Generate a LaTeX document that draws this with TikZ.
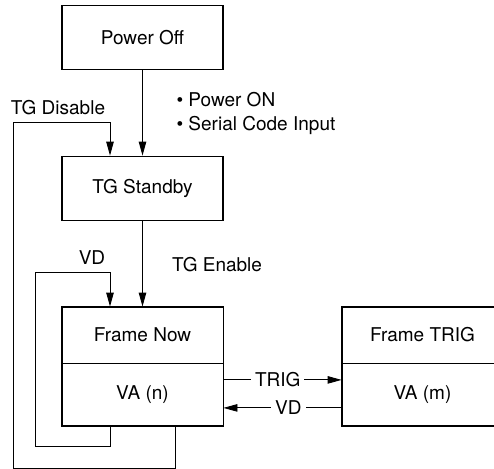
\documentclass[tikz,border=0pt]{standalone}
\usepackage{fontspec}
\setmainfont{TeX Gyre Heros}
\usepackage{xcolor}
\usetikzlibrary{arrows.meta, positioning}

\tikzset{
  statebox/.style={draw, line width=1.8pt, minimum width=161pt, minimum height=64pt, inner sep=0pt},
  partbox/.style={draw, line width=0.9pt, minimum width=161pt, inner sep=0pt},
  wire/.style={line width=0.9pt, -{Triangle[length=14pt, width=7.5pt]}}
}

\begin{document}
\begin{tikzpicture}[x=1pt, y=-1pt, font=\fontsize{19}{24}\selectfont]
      \useasboundingbox (0,0) rectangle (494,468);
      % states
      \node[statebox] (off) at (142.5, 37.5) {Power Off};
      \node[statebox] (standby) at (142.5, 188.5) {TG Standby};
      \node[partbox, minimum height=56pt] (nowtop) at (142.5, 335) {Frame Now};
      \node[partbox, minimum height=62pt, below=0pt of nowtop] (nowbot) {VA (n)};
      \draw[line width=1.8pt] (nowtop.north west) rectangle (nowbot.south east);
      \node[partbox, minimum height=56pt] (trigtop) at (422.5, 335) {Frame TRIG};
      \node[partbox, minimum height=62pt, below=0pt of trigtop] (trigbot) {VA (m)};
      \draw[line width=1.8pt] (trigtop.north west) rectangle (trigbot.south east);
      % corners of the feedback loops
      \coordinate (disablecorner) at (13, 122);
      \coordinate (vdcorner) at (35, 272);
      % transitions
      \draw[wire] (off) -- (standby);
      \node[anchor=west, align=left] (poweron) at (173, 113) {\textbullet\ Power ON\\\textbullet\ Serial Code Input};
      \draw[wire] (standby) -- (nowtop);
      \node[anchor=west] (enable) at (168.5, 265) {TG Enable};
      \draw[wire] ([xshift=32.5pt]nowbot.south) -- ++(0,42) -| (disablecorner) -| ([xshift=-32.5pt]standby.north);
      \node (disable) at (58, 108) {TG Disable};
      \draw[wire] ([xshift=-32.5pt]nowbot.south) -- ++(0,20) -| (vdcorner) -| ([xshift=-32.5pt]nowtop.north);
      \node (vdloop) at (92, 258) {VD};
      \draw[wire] ([yshift=15pt]nowbot.east) -- node[pos=0.46, fill=white, inner sep=4pt] (trig) {TRIG} ([yshift=15pt]trigbot.west);
      \draw[wire] ([yshift=-13pt]trigbot.west) -- node[pos=0.45, fill=white, inner sep=4pt] (vdback) {VD} ([yshift=-13pt]nowbot.east);
    \end{tikzpicture}
\end{document}
